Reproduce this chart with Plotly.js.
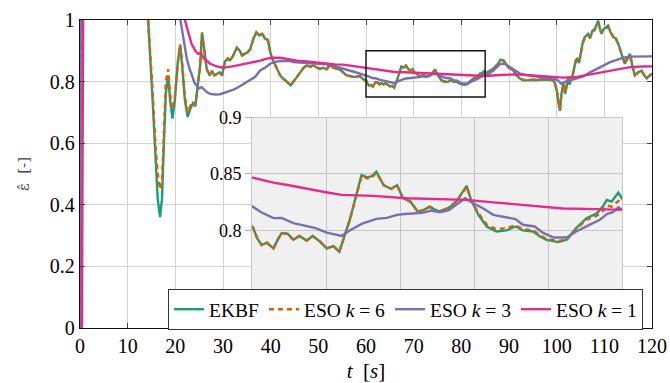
<!DOCTYPE html>
<html>
<head>
<meta charset="utf-8">
<script src="https://cdn.plot.ly/plotly-3.0.1.min.js"></script>
<style>html,body{margin:0;padding:0;background:#fff;}#chart{width:670px;height:383px;}</style>
</head>
<body>
<div id="chart"></div>
<script>
// ---- data ----
const tEKBF = [0,0.2,3,8,13,14.3,15.2,15.8,16.3,16.8,17.2,17.6,18.0,18.5,18.9,19.4,19.9,20.5,21.0,21.5,22.0,22.6,23.1,23.7,24.2,24.8,25.2,25.6,26.1,26.6,27.2,27.7,28.2,28.7,29.3,29.8,30.4,31.0,31.5,32.0,32.9,33.5,34.0,34.5,35.2,35.7,36.4,37.0,37.6,38.2,38.8,39.4,40.0,40.6,41.3,42.0,42.6,43.3,44.2,44.8,45.5,46.2,46.9,47.6,48.3,49.0,49.7,50.3,51.0,51.7,52.4,53.2,54.0,54.6,55.2,55.9,56.7,57.4,58.0,58.7,59.4,60.05,60.35,60.65,61.0,61.45,61.75,62.0,62.4,62.8,63.2,63.7,64.1,64.6,65.05,65.5,65.9,66.6,67.4,67.8,68.1,68.4,68.9,69.4,69.8,70.2,70.7,71.2,71.6,72.0,72.6,73.3,73.8,74.5,74.8,75.3,75.86,76.5,77.2,77.8,78.3,79.0,79.46,79.9,80.7,81.26,81.9,82.6,83.3,83.7,83.97,84.3,84.75,85.05,86.0,86.7,87.7,88.2,88.8,89.3,89.8,90.9,91.6,92.3,93.0,93.7,95.0,96.0,97.0,97.9,99.0,99.5,100.0,100.4,100.7,101.0,101.4,101.8,102.1,102.4,102.7,103.1,103.5,104.0,104.3,104.7,105.1,105.5,105.9,106.3,106.6,107.0,107.5,108.0,108.4,108.7,109.1,109.4,109.8,110.3,110.8,111.3,111.9,112.4,113.0,113.6,114.0,114.3,114.8,115.4,115.9,116.4,117.1,117.8,118.4,118.9,119.5,120.0];
const yEKBF = [0,1.6,1.8,1.6,1.3,1.0,0.75,0.55,0.42,0.36,0.42,0.6,0.76,0.82,0.74,0.68,0.74,0.86,0.92,0.84,0.74,0.685,0.71,0.73,0.72,0.80,0.85,0.96,0.90,0.84,0.82,0.835,0.82,0.825,0.83,0.82,0.865,0.875,0.87,0.88,0.91,0.90,0.885,0.89,0.895,0.905,0.94,0.96,0.95,0.955,0.94,0.935,0.89,0.865,0.845,0.82,0.81,0.80,0.788,0.80,0.815,0.826,0.845,0.853,0.848,0.853,0.845,0.842,0.845,0.84,0.853,0.845,0.842,0.838,0.83,0.82,0.818,0.815,0.816,0.818,0.808,0.803,0.793,0.787,0.789,0.784,0.792,0.7975,0.797,0.7916,0.795,0.791,0.795,0.79,0.784,0.786,0.781,0.809,0.849,0.847,0.848,0.852,0.840,0.8367,0.840,0.8285,0.8255,0.8166,0.818,0.821,0.8166,0.82,0.8255,0.8394,0.827,0.8137,0.8034,0.799,0.8,0.8034,0.8,0.799,0.7945,0.7916,0.7896,0.7916,0.802,0.8108,0.815,0.821,0.827,0.8255,0.8335,0.827,0.835,0.842,0.858,0.871,0.87,0.86,0.847,0.836,0.82,0.81,0.805,0.804,0.806,0.805,0.807,0.806,0.805,0.8,0.772,0.73,0.705,0.76,0.793,0.76,0.79,0.815,0.79,0.81,0.83,0.87,0.874,0.86,0.90,0.93,0.944,0.95,0.955,0.94,0.965,0.971,0.985,0.998,0.97,0.955,0.97,0.975,0.982,0.96,0.944,0.94,0.92,0.89,0.87,0.858,0.875,0.89,0.85,0.82,0.83,0.836,0.82,0.81,0.82,0.826];

const tESO6 = tEKBF;
const yESO6 = [0,1.6,1.8,1.6,1.3,1.0,0.78,0.6,0.50,0.45,0.48,0.63,0.80,0.84,0.76,0.71,0.75,0.86,0.92,0.85,0.75,0.70,0.72,0.735,0.725,0.80,0.85,0.955,0.90,0.84,0.82,0.835,0.82,0.825,0.83,0.82,0.865,0.875,0.87,0.88,0.91,0.90,0.885,0.89,0.895,0.905,0.94,0.96,0.95,0.955,0.94,0.935,0.89,0.865,0.845,0.82,0.81,0.80,0.79,0.80,0.815,0.826,0.845,0.853,0.848,0.853,0.845,0.842,0.845,0.84,0.853,0.845,0.842,0.838,0.83,0.82,0.818,0.815,0.816,0.818,0.808,0.803,0.793,0.787,0.789,0.784,0.792,0.7975,0.797,0.7916,0.795,0.791,0.795,0.79,0.784,0.786,0.781,0.809,0.848,0.846,0.847,0.851,0.840,0.8367,0.840,0.8285,0.8255,0.8166,0.818,0.821,0.8166,0.82,0.8255,0.8385,0.827,0.815,0.805,0.801,0.802,0.8045,0.801,0.8,0.7955,0.7925,0.7905,0.7916,0.801,0.8095,0.813,0.817,0.822,0.821,0.826,0.823,0.834,0.842,0.857,0.869,0.869,0.86,0.847,0.836,0.82,0.81,0.805,0.804,0.806,0.805,0.807,0.806,0.805,0.8,0.775,0.735,0.71,0.76,0.79,0.765,0.79,0.812,0.795,0.81,0.83,0.865,0.87,0.865,0.895,0.925,0.94,0.945,0.95,0.945,0.96,0.968,0.98,0.99,0.97,0.958,0.968,0.972,0.978,0.96,0.946,0.94,0.92,0.89,0.872,0.86,0.872,0.885,0.852,0.822,0.83,0.834,0.82,0.812,0.82,0.824];

const tESO3 = [0,0.15,5,15,20,21.0,21.5,22.0,22.4,23.0,23.4,24.0,24.5,25.0,25.5,26.0,26.6,27.3,28.3,29.4,30.5,31.5,32.2,33.0,33.9,34.8,35.7,36.7,37.8,38.8,39.9,41.0,42.0,43.0,44.0,44.7,46.0,47.6,48.2,50.0,51.5,53.1,54.2,55.2,56.5,57.5,58.7,59.4,60.05,60.65,61.45,62.0,62.8,63.7,64.3,65.05,65.5,66.06,66.6,67.4,67.9,68.4,69.1,69.8,70.3,70.9,71.5,72.1,72.7,73.3,73.9,74.4,74.95,75.6,76.3,77.0,77.8,78.3,79.1,79.7,80.4,81.26,81.9,82.8,83.5,84.0,84.4,84.75,85.05,86.7,88.0,88.5,89.2,90.6,92.3,94.0,95.8,97.5,99.3,100.2,101.0,101.8,102.8,104.2,105.6,107.0,108.4,109.8,111.2,112.6,114.0,115.4,116.8,118.4,120.0];
const yESO3 = [0,1.5,1.8,1.5,1.1,1.0,0.95,0.9,0.875,0.84,0.825,0.796,0.785,0.778,0.782,0.775,0.766,0.76,0.758,0.759,0.764,0.770,0.774,0.78,0.788,0.796,0.804,0.815,0.836,0.845,0.858,0.864,0.8667,0.868,0.867,0.8634,0.862,0.86,0.858,0.858,0.856,0.852,0.846,0.842,0.836,0.832,0.826,0.823,0.821,0.8158,0.8108,0.811,0.8064,0.8034,0.802,0.798,0.797,0.7951,0.7998,0.8057,0.808,0.8102,0.811,0.8137,0.8145,0.8152,0.8155,0.8175,0.816,0.818,0.824,0.8285,0.824,0.8196,0.8137,0.8117,0.81,0.8049,0.8034,0.7975,0.7936,0.7936,0.799,0.8049,0.8093,0.8146,0.816,0.8205,0.8181,0.836,0.855,0.858,0.857,0.842,0.826,0.82,0.815,0.812,0.81,0.805,0.793,0.80,0.804,0.81,0.817,0.83,0.842,0.852,0.863,0.871,0.8776,0.881,0.882,0.883,0.882];

const tESO1 = [0,0.4,0.8,5,15,21,22.0,22.7,23.4,24.2,24.8,25.3,26.0,27.3,28.5,29.7,31.0,32.5,33.9,35.0,36.5,37.8,39.0,40.2,42.0,44.0,45.5,47.6,49.5,51.8,53.5,55.2,57.0,58.7,60.05,61.45,62.5,63.7,64.9,66.06,68.2,70.45,72.7,74.5,76.5,78.8,81.0,83.3,85.05,88.0,91.6,95.0,97.9,101.4,104.5,108.4,111.9,115.4,118.0,120.0];
const yESO1 = [0,0,1.6,1.9,1.5,1.05,1.0,0.96,0.923,0.90,0.89,0.893,0.875,0.858,0.85,0.846,0.847,0.851,0.855,0.858,0.862,0.868,0.874,0.8776,0.8776,0.871,0.868,0.8656,0.862,0.858,0.856,0.855,0.851,0.848,0.8467,0.8423,0.84,0.8367,0.834,0.8314,0.8305,0.8285,0.8276,0.827,0.8246,0.8217,0.8193,0.8188,0.8181,0.8215,0.8235,0.82,0.817,0.813,0.816,0.8277,0.8387,0.847,0.849,0.8494];

const seriesNames = ['EKBF', 'ESO <i>k</i> = 6', 'ESO <i>k</i> = 3', 'ESO <i>k</i> = 1'];
const xTicks = [0,10,20,30,40,50,60,70,80,90,100,110,120];
const yTicks = [0,0.2,0.4,0.6,0.8,1];
const yTickText = ['0','0.2','0.4','0.6','0.8','1'];
const insetYTicks = [0.8,0.85,0.9];
const insetYTickText = ['0.8','0.85','0.9'];
const zoomBox = {t0:60, t1:85, e0:0.75, e1:0.9};

// ---- styles ----
const colors = ['#1b9e77','#d95f02','#7570b3','#e7298a'];
const FONT = 'Liberation Serif';
const xs = [tEKBF, tESO6, tESO3, tESO1];
const ys = [yEKBF, yESO6, yESO3, yESO1];

const traces = [];
[['x','y',true],['x2','y2',false]].forEach(([xa,ya,leg]) => {
  for (let i = 0; i < 4; i++) {
    traces.push({
      type:'scatter', mode:'lines', x: xs[i], y: ys[i], name: seriesNames[i],
      xaxis: xa, yaxis: ya, showlegend: leg, cliponaxis: true,
      line: {color: colors[i], width: 2.4, dash: i === 1 ? '5px,4px' : 'solid'}
    });
  }
});

const layout = {
  width: 670, height: 383,
  margin: {l: 80, r: 18, t: 20, b: 55, pad: 0},
  paper_bgcolor: '#ffffff',
  plot_bgcolor: '#f0f0f0',
  font: {family: FONT, size: 19, color: '#000'},
  showlegend: true,
  xaxis: {
    domain: [0, 1], range: [0, 120], tickvals: xTicks, ticktext: xTicks.map(String),
    showgrid: true, gridcolor: '#d2d2d2', gridwidth: 1, zeroline: false,
    showline: true, linecolor: '#111', linewidth: 1.2, mirror: 'ticks',
    ticks: 'inside', ticklen: 5, tickcolor: '#444',
    tickfont: {family: FONT, size: 20}, automargin: false,
    title: {text: '<i>t</i>  [<i>s</i>]', font: {family: FONT, size: 21}, standoff: 8}
  },
  yaxis: {
    domain: [0, 1], range: [0, 1], tickvals: yTicks, ticktext: yTickText,
    showgrid: true, gridcolor: '#d2d2d2', gridwidth: 1, zeroline: false,
    showline: true, linecolor: '#111', linewidth: 1.2, mirror: 'ticks',
    ticks: 'inside', ticklen: 5, tickcolor: '#444',
    tickfont: {family: FONT, size: 20}, automargin: false,
    title: {text: 'ε\u0302  [-]', font: {family: 'DejaVu Serif', size: 15, color: '#444'}, standoff: 16}
  },
  xaxis2: {
    domain: [0.3007, 0.9476], range: [60, 85], anchor: 'y2', dtick: 5, tick0: 60,
    showticklabels: false, showgrid: true, gridcolor: '#c6c6c6', gridwidth: 1, zeroline: false,
    showline: true, linecolor: '#c6c6c6', linewidth: 1, mirror: true, ticks: '', automargin: false
  },
  yaxis2: {
    domain: [0.1266, 0.6834], range: [0.748, 0.9], anchor: 'x2',
    tickvals: insetYTicks, ticktext: insetYTickText,
    showgrid: true, gridcolor: '#c6c6c6', gridwidth: 1, zeroline: false,
    showline: true, linecolor: '#c6c6c6', linewidth: 1, mirror: true,
    ticks: 'outside', ticklen: 6, tickcolor: '#aaa',
    tickfont: {family: FONT, size: 18}, automargin: false
  },
  shapes: [
    {type: 'rect', xref: 'paper', yref: 'paper', x0: 0, x1: 1, y0: 0, y1: 1,
     fillcolor: '#ffffff', line: {width: 0}, layer: 'below'},
    {type: 'rect', xref: 'x', yref: 'y', x0: zoomBox.t0, x1: zoomBox.t1, y0: zoomBox.e0, y1: zoomBox.e1,
     fillcolor: 'rgba(0,0,0,0)', line: {color: '#111', width: 1.4}, layer: 'above'}
  ],
  legend: {
    orientation: 'h', x: 0.1538, y: 0.1266, xanchor: 'left', yanchor: 'top',
    bgcolor: '#ffffff', bordercolor: '#333', borderwidth: 1,
    font: {family: FONT, size: 19.5, color: '#000'}, tracegroupgap: 0, itemwidth: 30
  }
};

Plotly.newPlot('chart', traces, layout, {staticPlot: true, displayModeBar: false});
</script>
</body>
</html>
